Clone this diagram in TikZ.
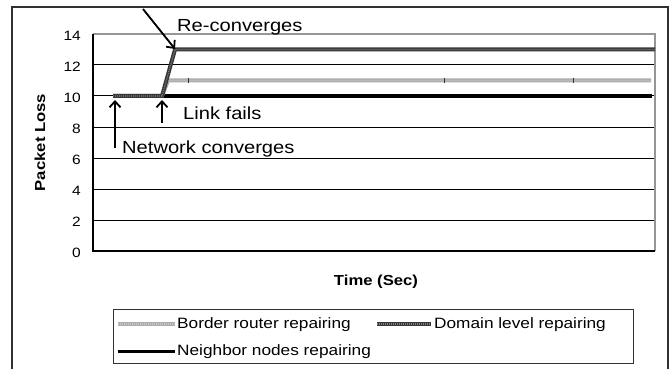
\documentclass[tikz,border=0pt]{standalone}
\usepackage{fontspec}
\newfontfamily\chartfont{Liberation Sans}[FakeStretch=1.15]
\usetikzlibrary{arrows.meta, positioning}
\definecolor{framegray}{RGB}{50,50,50}
\definecolor{plotgray}{RGB}{150,150,150}
\definecolor{borderfill}{RGB}{172,172,172}
\definecolor{domainfill}{RGB}{55,55,55}

\begin{document}
\begin{tikzpicture}[x=1pt, y=-1pt,
  grid/.style={black, line width=1pt},
  ticklabel/.style={anchor=east, inner sep=0pt, font=\chartfont\fontsize{13.5}{15}\selectfont},
  note/.style={anchor=base west, inner sep=0pt, font=\chartfont\fontsize{17.5}{20}\selectfont},
  pointer/.style={line width=1.8pt, -{Straight Barb[length=6pt, width=11pt]}},
  axistitle/.style={inner sep=0pt, font=\chartfont\bfseries\fontsize{14.5}{16}\selectfont},
  legendtext/.style={anchor=base west, inner sep=0pt, font=\chartfont\fontsize{15}{18}\selectfont},
  neighborline/.style={black, line width=4pt},
  borderline/.style={borderfill, line width=4pt,
    postaction={draw, gray!45, line width=1.2pt, dash pattern=on 1pt off 1pt}},
  domainline/.style={domainfill, line width=4pt,
    postaction={draw, black!50, line width=1.2pt, dash pattern=on 1pt off 1pt}},
]
\useasboundingbox (0,0) rectangle (670,369);
\clip (0,0) rectangle (670,369);
\fill[white] (0,0) rectangle (670,369);

% chart frame, open at the bottom
\draw[framegray, line width=1.5pt] (12,380) -- (12,7) -- (668,7) -- (668,380);

% plot area and grid
\foreach \v in {2,4,...,12}
  \draw[grid] (93,{251-15.5*\v}) -- (655,{251-15.5*\v});
\draw[plotgray, line width=1.5pt] (93,34) -- (655,34) -- (655,251);
\draw[black, line width=1.2pt] (93,34) -- (93,251) -- (655,251);
\foreach \v in {0,2,...,14}
  \node[ticklabel] (tick\v) at (81,{252.5-15.5*\v}) {\v};

% axis titles
\node[axistitle, rotate=90] (ytitle) at (40,142.5) {Packet Loss};
\node[axistitle, anchor=base] (xtitle) at (376,285) {Time (Sec)};

% series
\draw[neighborline] (113,96) -- (652,96);
\draw[borderline] (113,96) -- (162,96) -- (168,80.5) -- (651,80.5);
\foreach \x in {188,444,573}
  \draw[black!80, line width=0.8pt] (\x,78) -- (\x,83);
\draw[domainline] (113,96) -- (162,96) -- (175,49.5) -- (655,49.5);

% annotations
\coordinate (conv) at (115,100);
\coordinate (fail) at (162,100);
\coordinate (reconv) at (175,49);
\coordinate (convtail) at (115,148);
\coordinate (failtail) at (162,123);
\coordinate (reconvtail) at (143,9);
\node[note] (netconv) at (122,153.3) {Network converges};
\node[note] (linkfail) at (183,119.3) {Link fails};
\node[note] (reconvtext) at (177,31.7) {Re-converges};
\draw[pointer] (convtail) -- (conv);
\draw[pointer] (failtail) -- (fail);
\draw[pointer] (reconvtail) -- (reconv);

% legend
\draw[framegray, line width=1pt] (113,309) rectangle (633,363);
\draw[borderline] (118,324) -- (175,324);
\node[legendtext] (lgborder) at (177,328) {Border router repairing};
\draw[domainline] (377,324) -- (431,324);
\node[legendtext] (lgdomain) at (434,328) {Domain level repairing};
\draw[neighborline, line width=3pt] (118,351) -- (175,351);
\node[legendtext] (lgneighbor) at (177,355) {Neighbor nodes repairing};
\end{tikzpicture}
\end{document}
